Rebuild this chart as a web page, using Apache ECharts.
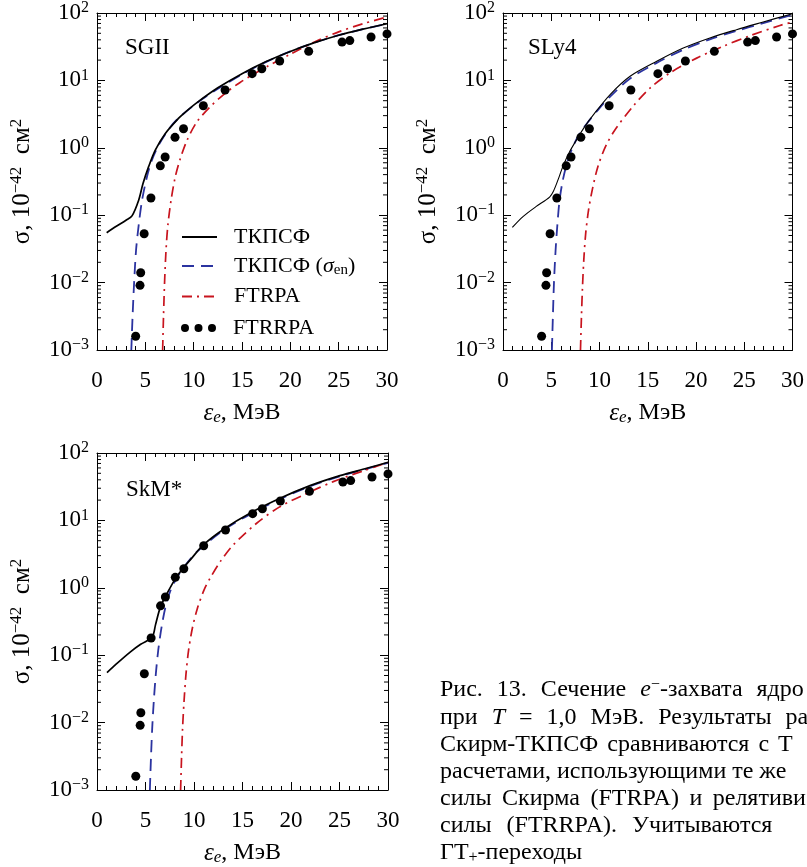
<!DOCTYPE html>
<html><head><meta charset="utf-8">
<script src="https://cdn.jsdelivr.net/npm/echarts@6/dist/echarts.min.js"></script>
<style>html,body{margin:0;padding:0;background:#fff}#c{width:807px;height:867px}</style>
</head><body><div id="c"></div>
<script>
const FONT = 'Liberation Serif';
const seriesNames = ['ТКПСФ', 'ТКПСФ (σen)', 'FTRPA', 'FTRRPA'];
const panelNames = ['SGII', 'SLy4', 'SkM*'];

// SGII
const sgiiSolidX = [1.0, 2.0, 3.0, 3.62, 4.31, 4.76, 5.34, 6.03, 7.07, 8.45, 9.14, 10.34, 12.5, 15, 17.5, 20, 22.5, 25, 27.5, 30];
const sgiiSolidY = [0.055, 0.0684, 0.0841, 0.0977, 0.167, 0.295, 0.525, 0.923, 1.633, 2.75, 3.39, 4.68, 7.76, 12.6, 19.05, 26.9, 36.3, 46.8, 57.5, 69.2];
const sgiiDashX = [3.55, 3.68, 3.84, 4.04, 4.31, 4.66, 5.17, 5.69, 6.38, 7.24, 8.28, 10.34, 12.5, 15, 17.5, 20, 22.5, 25, 27.5, 30];
const sgiiDashY = [0.001, 0.00316, 0.01, 0.0302, 0.0708, 0.166, 0.372, 0.661, 1.096, 1.738, 2.63, 4.62, 7.5, 12.3, 18.8, 26.9, 36.3, 46.8, 57.5, 69.2];
const sgiiDotDashX = [6.79, 6.88, 6.99, 7.14, 7.33, 7.66, 8.1, 8.62, 9.31, 10.34, 11.72, 13.1, 14.8, 17.5, 20, 22.5, 25, 27.5, 30];
const sgiiDotDashY = [0.001, 0.00316, 0.01, 0.0302, 0.0708, 0.166, 0.372, 0.692, 1.288, 2.43, 4.07, 6.17, 9.33, 15.8, 24.5, 37.2, 52.5, 69.2, 87.1];

// SLy4
const sly4SolidX = [0.97, 2.07, 3.45, 4.83, 5.24, 5.69, 6.2, 6.9, 7.59, 8.45, 9.48, 11.1, 13.17, 15.93, 18.68, 21.44, 24.2, 26.96, 30];
const sly4SolidY = [0.0661, 0.0955, 0.135, 0.186, 0.229, 0.331, 0.525, 0.871, 1.288, 2.04, 3.24, 6.17, 11.5, 19.2, 30.2, 42.7, 56.6, 73.5, 97.7];
const sly4DashX = [5.07, 5.17, 5.28, 5.45, 5.62, 5.86, 6.2, 6.72, 7.24, 7.93, 8.97, 10.0, 11.1, 13.17, 15.93, 18.68, 21.44, 24.2, 26.96, 30];
const sly4DashY = [0.001, 0.00316, 0.00977, 0.0302, 0.0676, 0.166, 0.331, 0.661, 1.035, 1.622, 2.57, 3.89, 5.75, 10.7, 18.2, 28.5, 40.7, 54.3, 70.8, 94.4];
const sly4DotDashX = [8.03, 8.13, 8.24, 8.37, 8.57, 8.86, 9.24, 9.83, 10.69, 11.72, 13.5, 15.24, 17.3, 20.07, 22.8, 25.6, 28.7, 30];
const sly4DotDashY = [0.001, 0.00316, 0.00871, 0.0214, 0.0537, 0.1175, 0.234, 0.525, 1.096, 1.95, 4.17, 7.71, 12.9, 21.4, 32.0, 46.0, 65.3, 73.3];

// SkM*
const skmSolidX = [1.03, 2.0, 3.45, 4.5, 5.69, 6.03, 6.55, 7.24, 8.1, 8.97, 9.59, 10.96, 13.2, 15.77, 18.87, 21.96, 25.05, 27.8, 30];
const skmSolidY = [0.055, 0.0741, 0.112, 0.145, 0.186, 0.282, 0.525, 0.832, 1.38, 2.04, 2.57, 4.33, 7.66, 12.8, 21.3, 32.8, 46.2, 59.3, 72.8];
const skmDashX = [5.45, 5.57, 5.7, 5.86, 6.07, 6.31, 6.66, 7.07, 7.59, 8.28, 8.97, 10.34, 13.2, 15.77, 18.87, 21.96, 25.05, 27.8, 30];
const skmDashY = [0.001, 0.00316, 0.00871, 0.0214, 0.0537, 0.1175, 0.263, 0.525, 0.923, 1.445, 2.04, 3.47, 7.41, 12.3, 20.7, 32.0, 45.2, 58.2, 71.6];
const skmDotDashX = [8.62, 8.72, 8.83, 8.98, 9.18, 9.44, 9.83, 10.34, 11.03, 11.65, 12.76, 14.05, 16.46, 18.87, 21.62, 24.36, 27.45, 30];
const skmDotDashY = [0.001, 0.00316, 0.00871, 0.0214, 0.0537, 0.1175, 0.251, 0.49, 0.923, 1.38, 2.51, 4.33, 9.08, 16.0, 25.1, 37.6, 54.3, 72.4];

// FTRRPA (same points in all panels)
const ftrrpaX = [4.0, 4.45, 4.52, 4.88, 5.58, 6.55, 7.05, 8.07, 8.95, 11.0, 13.25, 16.05, 17.05, 18.9, 21.9, 25.35, 26.15, 28.35, 30.0];
const ftrrpaY = [0.0016, 0.0091, 0.014, 0.053, 0.18, 0.54, 0.73, 1.43, 1.92, 4.2, 7.2, 12.6, 14.9, 19.4, 27, 37, 39, 44, 49];

// caption (visible part of the figure caption), words per line
const captionLines = [
  ['{t|Рис.}', '{t|13.}', '{t|Сечение}', '{i|e}{sup|−}{t|-захвата}', '{t|ядро}'],
  ['{t|при}', '{i|T}', '{t|=}', '{t|1,0}', '{t|МэВ.}', '{t|Результаты}', '{t|ра}'],
  ['{t|Скирм-ТКПСФ}', '{t|сравниваются}', '{t|с}', '{t|Т}'],
  ['{t|расчетами,}', '{t|использующими}', '{t|те}', '{t|же}'],
  ['{t|силы}', '{t|Скирма}', '{t|(FTRPA)}', '{t|и}', '{t|релятиви}'],
  ['{t|силы}', '{t|(FTRRPA).}', '{t|Учитываются}'],
  ['{t|ГТ}{sub|+}{t|-переходы}']
];

// ---------- layout ----------
const capSpaceW = [14, 14, 9, 6, 10.5, 15, 6];   // justified inter-word space per line
const captionY = [690, 717.5, 745, 772, 799, 826, 853];

const zip = (xs, ys) => xs.map((x, i) => [x, ys[i]]);
const panels = [
  {solid: zip(sgiiSolidX, sgiiSolidY), dash: zip(sgiiDashX, sgiiDashY), dd: zip(sgiiDotDashX, sgiiDotDashY), w: 1.7},
  {solid: zip(sly4SolidX, sly4SolidY), dash: zip(sly4DashX, sly4DashY), dd: zip(sly4DotDashX, sly4DotDashY), w: 1.1},
  {solid: zip(skmSolidX, skmSolidY), dash: zip(skmDashX, skmDashY), dd: zip(skmDotDashX, skmDotDashY), w: 1.7}
];
const dots = zip(ftrrpaX, ftrrpaY);

const minorY = [];
for (let k = -3; k <= 1; k++) for (let m = 2; m <= 9; m++) minorY.push([0, m * Math.pow(10, k)]);

const grids = [
  {left: 97, top: 13, width: 290, height: 337},
  {left: 503, top: 13, width: 290, height: 337},
  {left: 97, top: 453, width: 291, height: 337}
];
const BLUE = '#2b33a0', RED = '#c8141e';

const tickRich = {
  b: {fontSize: 23, fontFamily: FONT, color: '#000', lineHeight: 26},
  s: {fontSize: 16, fontFamily: FONT, color: '#000', verticalAlign: 'top', lineHeight: 18}
};
function yFmt(v) {
  const e = Math.round(Math.log10(v));
  return '{b|10}{s|' + (e < 0 ? '−' + (-e) : e) + '}';
}

const xAxes = [], yAxes = [], series = [];
grids.forEach((g, i) => {
  const common = {
    gridIndex: i, type: 'value', min: 0, max: 30, interval: 5,
    axisLine: {onZero: false, lineStyle: {color: '#000', width: 1}},
    axisTick: {inside: true, length: 8, lineStyle: {color: '#000', width: 1}},
    minorTick: {show: true, splitNumber: 5, length: 4, lineStyle: {color: '#000', width: 1}},
    splitLine: {show: false}, minorSplitLine: {show: false}
  };
  xAxes.push(Object.assign({}, common, {
    position: 'bottom',
    axisLabel: {margin: 19, fontSize: 23, fontFamily: FONT, color: '#000'},
    name: '{i|ε}{sub|e}{t|, МэВ}', nameLocation: 'middle', nameGap: 50,
    nameTextStyle: {rich: {
      i: {fontSize: 25, fontFamily: FONT, fontStyle: 'italic', color: '#000', lineHeight: 26},
      sub: {fontSize: 17, fontFamily: FONT, fontStyle: 'italic', color: '#000', verticalAlign: 'bottom', lineHeight: 12},
      t: {fontSize: 24, fontFamily: FONT, color: '#000', lineHeight: 26}
    }}
  }));
  xAxes.push(Object.assign({}, common, {position: 'top', axisLabel: {show: false}}));
  const ycommon = {
    gridIndex: i, type: 'log', logBase: 10, min: 0.001, max: 100,
    axisLine: {onZero: false, lineStyle: {color: '#000', width: 1}},
    axisTick: {inside: true, length: 8, lineStyle: {color: '#000', width: 1}},
    minorTick: {show: false}, splitLine: {show: false}
  };
  yAxes.push(Object.assign({}, ycommon, {
    position: 'left',
    axisLabel: {margin: 8, formatter: yFmt, rich: tickRich},
    name: '{t|σ, 10}{s|−42}{t|  см}{s|2}', nameLocation: 'middle', nameGap: 61,
    nameTextStyle: {rich: {
      t: {fontSize: 25, fontFamily: FONT, color: '#000', lineHeight: 28},
      s: {fontSize: 17, fontFamily: FONT, color: '#000', verticalAlign: 'top', lineHeight: 19}
    }}
  }));
  yAxes.push(Object.assign({}, ycommon, {position: 'right', axisLabel: {show: false}}));

  const p = panels[i];
  const ax = {xAxisIndex: 2 * i, yAxisIndex: 2 * i};
  series.push(Object.assign({
    name: seriesNames[0], type: 'line', data: p.solid, symbol: 'none', smooth: 0.3,
    lineStyle: {color: '#000', width: p.w, type: 'solid'}, itemStyle: {color: '#000'}, z: 4
  }, ax));
  series.push(Object.assign({
    name: seriesNames[1], type: 'line', data: p.dash, symbol: 'none', smooth: 0.3,
    lineStyle: {color: BLUE, width: 1.8, type: [12, 7]}, itemStyle: {color: BLUE}, z: 3
  }, ax));
  series.push(Object.assign({
    name: seriesNames[2], type: 'line', data: p.dd, symbol: 'none', smooth: 0.3,
    lineStyle: {color: RED, width: 1.7, type: [10, 5, 2, 5]}, itemStyle: {color: RED}, z: 3
  }, ax));
  series.push(Object.assign({
    name: seriesNames[3], type: 'scatter', data: dots, symbol: 'circle', symbolSize: 9,
    itemStyle: {color: '#000', opacity: 1}, z: 5
  }, ax));
  series.push(Object.assign({
    type: 'custom', data: minorY, silent: true, clip: false, z: 2,
    renderItem: function (params, api) {
      const v = api.value(1);
      const pl = api.coord([0, v]);
      const pr = api.coord([30, v]);
      return {type: 'group', children: [
        {type: 'line', shape: {x1: pl[0], y1: pl[1], x2: pl[0] + 4, y2: pl[1]}, style: {stroke: '#000', lineWidth: 1}},
        {type: 'line', shape: {x1: pr[0] - 4, y1: pr[1], x2: pr[0], y2: pr[1]}, style: {stroke: '#000', lineWidth: 1}}
      ]};
    }
  }, ax));
});

const graphics = [];
captionLines.forEach((words, k) => {
  const rich = {
    i: {fontSize: 24, fontFamily: FONT, fontStyle: 'italic', fill: '#000', lineHeight: 26},
    sup: {fontSize: 16, fontFamily: FONT, fill: '#000', verticalAlign: 'top', lineHeight: 14},
    sub: {fontSize: 16, fontFamily: FONT, fill: '#000', verticalAlign: 'bottom', lineHeight: 10},
    t: {fontSize: 24, fontFamily: FONT, fill: '#000', lineHeight: 26},
    sp: {fontSize: 24, fontFamily: FONT, fill: '#000', lineHeight: 26, width: capSpaceW[k]}
  };
  graphics.push({type: 'text', x: 440, y: captionY[k], silent: true,
    style: {text: words.join('{sp| }'), rich: rich, fontSize: 24, fontFamily: FONT, fill: '#000',
            verticalAlign: 'middle', align: 'left'}});
});
const panelLabelPos = [[125, 48], [528, 48], [126, 490]];
panelNames.forEach((n, k) => {
  graphics.push({type: 'text', x: panelLabelPos[k][0], y: panelLabelPos[k][1], silent: true,
    style: {text: n, fontSize: 23, fontFamily: FONT, fill: '#000', verticalAlign: 'middle', align: 'left'}});
});

const dotsIcon = 'path://M0,4a4,4 0 1,0 8,0a4,4 0 1,0 -8,0Z M13.5,4a4,4 0 1,0 8,0a4,4 0 1,0 -8,0Z M27,4a4,4 0 1,0 8,0a4,4 0 1,0 -8,0Z';
const legendRowCenter = [238, 267, 297.5, 329];
const legendRich = {
  t: {fontSize: 22, fontFamily: FONT, color: '#000', lineHeight: 24},
  i: {fontSize: 22, fontFamily: FONT, fontStyle: 'italic', color: '#000', lineHeight: 24},
  sub: {fontSize: 15, fontFamily: FONT, color: '#000', verticalAlign: 'bottom', lineHeight: 10}
};
const legends = seriesNames.map((nm, k) => ({
  orient: 'horizontal', left: 181, top: legendRowCenter[k] - 12, padding: 0,
  itemWidth: 35, itemHeight: 8, selectedMode: false,
  data: [k === 3 ? {name: nm, icon: dotsIcon, itemStyle: {color: '#000', opacity: 1}}
                 : {name: nm, itemStyle: {opacity: 0}}],
  formatter: function (name) {
    if (name === seriesNames[1]) return '{t|ТКПСФ (}{i|σ}{sub|en}{t|)}';
    return '{t|' + name + '}';
  },
  textStyle: {padding: [0, 0, 0, 12], rich: legendRich}
}));

const option = {
  animation: false,
  backgroundColor: '#fff',
  textStyle: {fontFamily: FONT},
  grid: grids,
  xAxis: xAxes,
  yAxis: yAxes,
  legend: legends,
  graphic: graphics,
  series: series
};
const chart = echarts.init(document.getElementById('c'), null, {renderer: 'canvas'});
chart.setOption(option);
</script></body></html>
